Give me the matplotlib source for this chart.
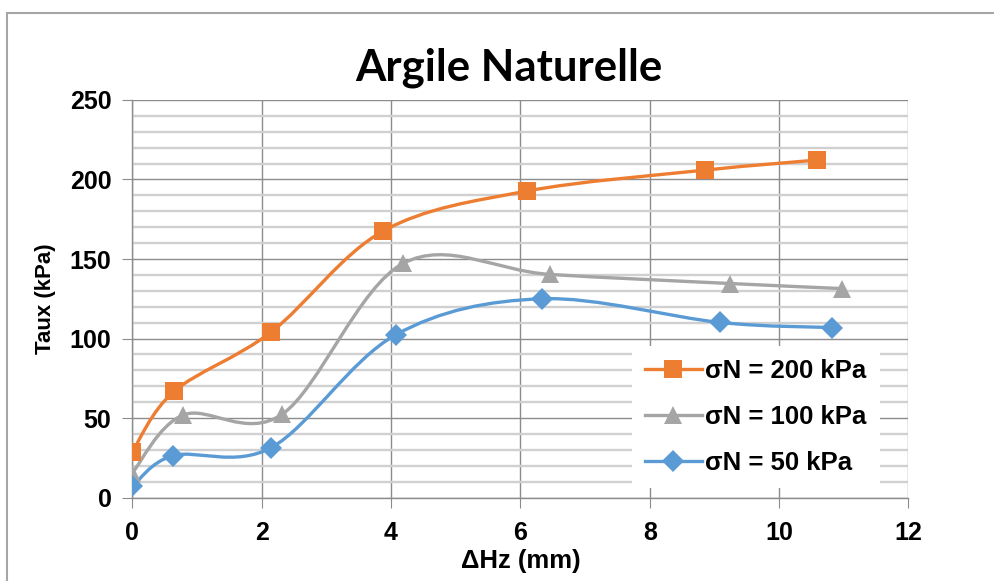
import matplotlib
matplotlib.use('Agg')
import matplotlib.pyplot as plt
from matplotlib.path import Path
from matplotlib.patches import PathPatch, Rectangle
from matplotlib.lines import Line2D
from matplotlib.ticker import MultipleLocator

# Argile naturelle : contrainte de cisaillement vs déplacement horizontal

x_200 = [0.0, 0.645, 2.15, 3.88, 6.10, 8.86, 10.59]
y_200 = [28.9, 66.8, 104.2, 167.6, 192.7, 205.9, 212.2]

x_100 = [0.0, 0.79, 2.32, 4.19, 6.46, 9.24, 10.98]
y_100 = [15.5, 52.0, 52.5, 147.3, 140.3, 134.6, 131.4]

x_50 = [0.0, 0.63, 2.15, 4.07, 6.33, 9.09, 10.82]
y_50 = [7.0, 26.4, 31.5, 102.3, 125.0, 110.1, 106.9]

labels = ['σN = 200 kPa', 'σN = 100 kPa', 'σN = 50 kPa']
colors = ['#ED7D31', '#A5A5A5', '#5B9BD5']
markers = ['s', '^', 'D']
msizes = [13, 13, 11]


def smooth_path(xs, ys):
    # courbe lissée type Excel (Bezier cubique, tangentes Catmull-Rom)
    pts = list(zip(xs, ys))
    n = len(pts)
    verts = [pts[0]]
    codes = [Path.MOVETO]
    for i in range(n - 1):
        p0 = pts[max(i - 1, 0)]
        p1 = pts[i]
        p2 = pts[i + 1]
        p3 = pts[min(i + 2, n - 1)]
        c1 = (p1[0] + (p2[0] - p0[0]) / 6, p1[1] + (p2[1] - p0[1]) / 6)
        c2 = (p2[0] - (p3[0] - p1[0]) / 6, p2[1] - (p3[1] - p1[1]) / 6)
        verts += [c1, c2, p2]
        codes += [Path.CURVE4] * 3
    return Path(verts, codes)


plt.rcParams['font.family'] = ['Liberation Sans', 'DejaVu Sans']
plt.rcParams['font.weight'] = 'bold'

fig = plt.figure(figsize=(9.95, 5.81), dpi=100)
ax = fig.add_axes([0.133, 0.1435, 0.780, 0.6845])

# cadre extérieur du graphique
fig.patches.append(Rectangle((0.007, -0.05), 1.1, 1.028, transform=fig.transFigure,
                             fill=False, edgecolor='#a6a6a6', linewidth=1.5))

series = [(x_200, y_200), (x_100, y_100), (x_50, y_50)]
for (xs, ys), c, m, ms in zip(series, colors, markers, msizes):
    ax.add_patch(PathPatch(smooth_path(xs, ys), fill=False, edgecolor=c,
                           linewidth=2.4, zorder=3, capstyle='round'))
    ax.plot(xs, ys, linestyle='none', marker=m, markersize=ms, color=c,
            markeredgewidth=0, zorder=4)

ax.set_xlim(0, 12)
ax.set_ylim(0, 250)
ax.xaxis.set_major_locator(MultipleLocator(2))
ax.yaxis.set_major_locator(MultipleLocator(50))
ax.yaxis.set_minor_locator(MultipleLocator(10))

ax.grid(which='major', color='#8c8c8c', linewidth=1.0, zorder=1)
ax.grid(which='minor', axis='y', color='#d0d0d0', linewidth=1.7, zorder=0)
ax.set_axisbelow(True)

for side in ['top', 'right']:
    ax.spines[side].set_visible(False)
for side in ['left', 'bottom']:
    ax.spines[side].set_color('#8c8c8c')
    ax.spines[side].set_linewidth(1.0)

ax.tick_params(axis='both', which='major', direction='out', length=7,
               color='#8c8c8c', labelsize=18)
ax.tick_params(axis='y', which='minor', length=0)
ax.tick_params(axis='x', pad=10)
ax.tick_params(axis='y', pad=8)
for lab in ax.get_xticklabels() + ax.get_yticklabels():
    lab.set_fontweight('bold')

ax.set_xlabel('ΔHz (mm)', fontsize=18.5, fontweight='bold', labelpad=3)
ax.set_ylabel('Taux (kPa)', fontsize=16, fontweight='bold', labelpad=10)

fig.text(0.511, 0.862, 'Argile Naturelle', fontsize=31.5, fontweight='bold',
         family='Lato', ha='center', va='baseline')

handles = [Line2D([], [], color=c, marker=m, markersize=ms, linewidth=2.4,
                  markeredgewidth=0)
           for c, m, ms in zip(colors, markers, msizes)]
leg = ax.legend(handles, labels, loc='center', bbox_to_anchor=(0.638, 0.039, 0.331, 0.327),
                frameon=True, fancybox=False, fontsize=18.5, handlelength=2.2,
                handletextpad=0.15, labelspacing=0.85, borderaxespad=0,
                borderpad=0.5)
leg.get_frame().set_facecolor('white')
leg.get_frame().set_edgecolor('none')
leg.get_frame().set_alpha(1)
for t in leg.get_texts():
    t.set_fontweight('bold')

fig.savefig('out.png', dpi=100)
